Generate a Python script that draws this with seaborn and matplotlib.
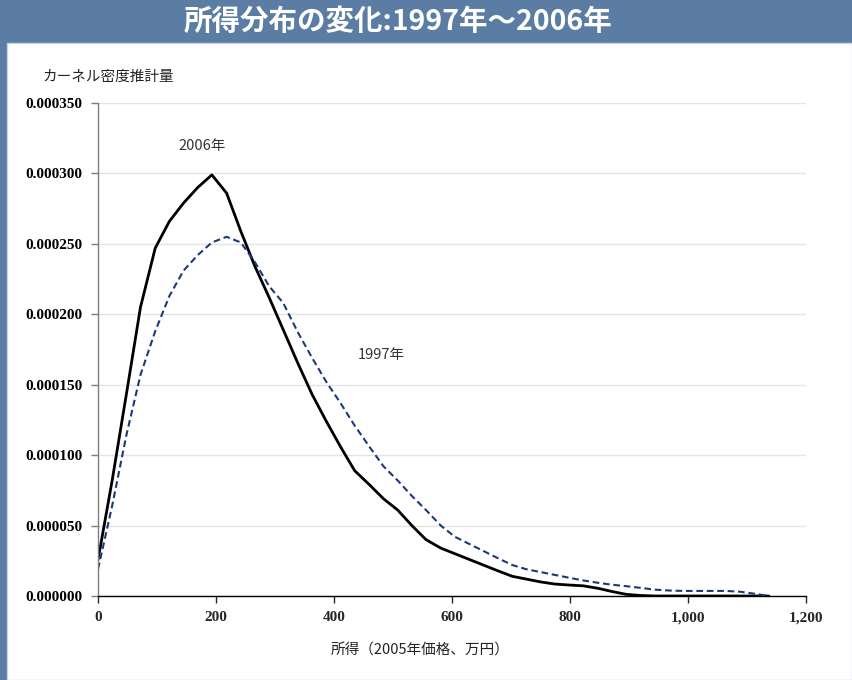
import numpy as np
import pandas as pd
import matplotlib
matplotlib.use("Agg")
import matplotlib.pyplot as plt
from matplotlib.patches import Rectangle
from matplotlib.ticker import FuncFormatter, MultipleLocator
import seaborn as sns

# Income grid (10k yen, 2005 prices) at which the kernel densities were evaluated
income = [0, 24, 48, 72, 97, 121, 145, 169, 193, 218, 242, 266, 290, 314, 339,
          363, 387, 411, 435, 460, 484, 508, 532, 556, 581, 605, 629, 653, 677,
          702, 726, 750, 774, 798, 823, 847, 871, 895, 919, 944, 968, 992, 1016,
          1040, 1065, 1089, 1113, 1137]

# Kernel density estimate, 2006
density_2006 = [0.0000256, 0.0000820, 0.000143, 0.000205, 0.000247, 0.000266,
                0.000279, 0.000290, 0.000299, 0.000286, 0.000259, 0.000234,
                0.000212, 0.000189, 0.000165, 0.000143, 0.000124, 0.000106,
                0.000089, 0.000079, 0.000069, 0.000061, 0.000050, 0.000040,
                0.000034, 0.000030, 0.000026, 0.000022, 0.000018, 0.000014,
                0.000012, 0.000010, 0.0000085, 0.0000078, 0.0000072, 0.0000055,
                0.0000032, 0.0000012, 0.0000004, 0.0, 0.0, 0.0, 0.0, 0.0, 0.0,
                0.0, 0.0, 0.0]

# Kernel density estimate, 1997
density_1997 = [0.0000190, 0.0000640, 0.000114, 0.000157, 0.000188, 0.000213,
                0.000231, 0.000242, 0.000251, 0.000255, 0.000251, 0.000237,
                0.000220, 0.000208, 0.000187, 0.000169, 0.000152, 0.000137,
                0.000121, 0.000106, 0.000092, 0.000082, 0.000071, 0.000061,
                0.000050, 0.000042, 0.000037, 0.000032, 0.000027, 0.000022,
                0.000019, 0.000017, 0.000015, 0.000013, 0.000011, 0.0000094,
                0.0000080, 0.0000070, 0.0000058, 0.0000045, 0.0000039,
                0.0000036, 0.0000036, 0.0000036, 0.0000036, 0.0000030,
                0.0000016, 0.0]

x_ticks = [0, 200, 400, 600, 800, 1000, 1200]

title = "所得分布の変化:1997年〜2006年"
y_title = "カーネル密度推計量"
x_title = "所得（2005年価格、万円）"

df = pd.DataFrame({
    "income": income * 2,
    "density": density_2006 + density_1997,
    "year": ["2006年"] * len(income) + ["1997年"] * len(income),
})

sns.set_theme(style="white")
plt.rcParams["font.family"] = ["Noto Sans CJK JP", "DejaVu Sans"]

fig = plt.figure(figsize=(8.52, 6.8), dpi=100)
slide_blue = "#5b7ca3"
fig.patch.set_facecolor(slide_blue)

# white content panel on the slide, kept beneath the axes
fig.patches.append(Rectangle((7 / 852, 0), 1 - 7 / 852, 1 - 43 / 680,
                             transform=fig.transFigure, facecolor="white",
                             edgecolor="#c8d4e4", linewidth=1.0, zorder=-10))

fig.text(0.467, 1 - 22 / 680, title, ha="center", va="center", color="white",
         fontsize=20.5, fontweight="bold")

ax = fig.add_axes([98 / 852, 1 - 596 / 680, (806 - 98) / 852, (596 - 103) / 680])
ax.set_facecolor("white")

sns.lineplot(data=df[df.year == "2006年"], x="income", y="density", ax=ax,
             color="black", linewidth=2.0, legend=False)
sns.lineplot(data=df[df.year == "1997年"], x="income", y="density", ax=ax,
             color="#1c3a78", linewidth=1.5, linestyle=(0, (3.2, 1.8)),
             legend=False)

ax.set_xlim(0, 1200)
ax.set_ylim(0, 0.00035)
ax.set_xticks(x_ticks)
ax.yaxis.set_major_locator(MultipleLocator(0.00005))
ax.xaxis.set_major_formatter(FuncFormatter(lambda v, p: f"{int(v):,}"))
ax.yaxis.set_major_formatter(FuncFormatter(lambda v, p: f"{v:.6f}"))

ax.grid(axis="y", color="#e4e4e4", linewidth=1.0)
ax.set_axisbelow(True)
for side in ("top", "right"):
    ax.spines[side].set_visible(False)
ax.spines["left"].set_color("#7f7f7f")
ax.spines["left"].set_linewidth(1.0)
ax.spines["bottom"].set_color("black")
ax.spines["bottom"].set_linewidth(1.0)

ax.tick_params(axis="both", which="major", direction="out", length=5,
               width=1.0, pad=6, bottom=True, left=True)
ax.tick_params(axis="y", colors="#7f7f7f", labelcolor="black")
for lab in ax.get_xticklabels() + ax.get_yticklabels():
    lab.set_family("Liberation Serif")
    lab.set_fontweight("bold")
    lab.set_fontsize(11)

ax.set_xlabel("")
ax.set_ylabel("")

fig.text(42 / 852, 1 - 77 / 680, y_title, ha="left", va="center",
         fontsize=10.5, color="#222222")
fig.text(420 / 852, 1 - 651 / 680, x_title, ha="center", va="center",
         fontsize=10.5, color="#222222")

ax.text(176, 0.0003197, "2006年", ha="center", va="center", fontsize=10.5,
        color="#333333")
ax.text(480, 0.000171, "1997年", ha="center", va="center", fontsize=10.5,
        color="#333333")

fig.savefig("out.png", dpi=100, facecolor=fig.get_facecolor())
